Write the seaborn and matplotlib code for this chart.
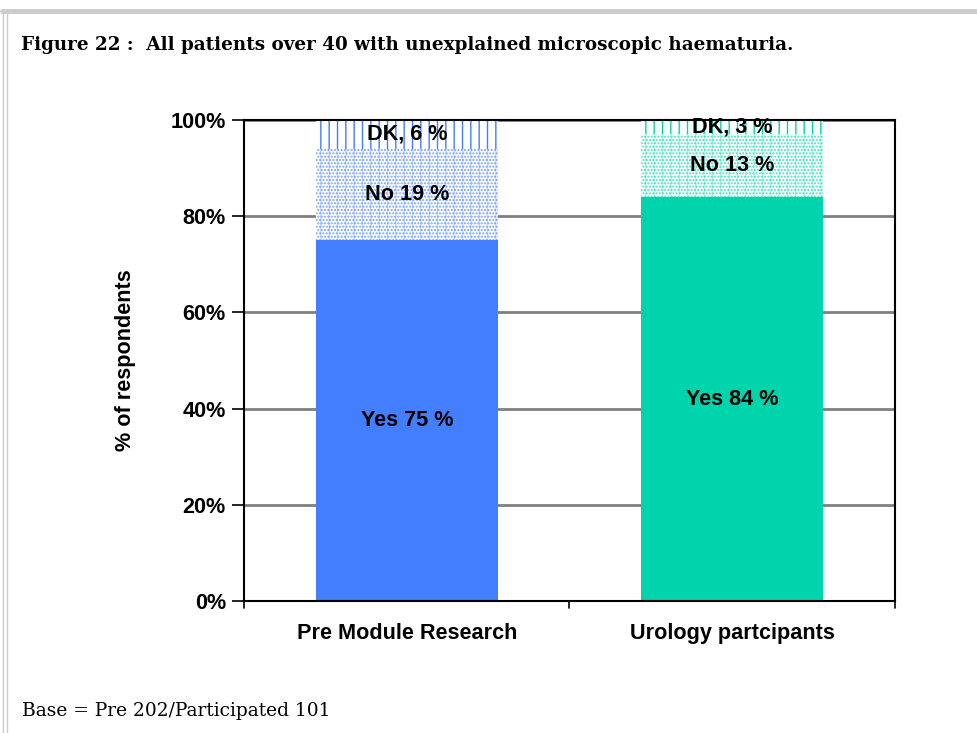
import numpy as np
import pandas as pd
import matplotlib
matplotlib.use('Agg')
import matplotlib.pyplot as plt
import seaborn as sns
from matplotlib.lines import Line2D

# --- Data ---
groups = ['Pre Module Research', 'Urology partcipants']
yes_pct = [75, 84]
no_pct = [19, 13]
dk_pct = [6, 3]
bar_colors = ['#437efe', '#00d4ac']

df = pd.DataFrame({'group': groups, 'yes': yes_pct, 'no': no_pct, 'dk': dk_pct})
df['yes_no'] = df['yes'] + df['no']
df['total'] = df['yes_no'] + df['dk']

sns.set_style('white')
plt.rcParams['font.family'] = ['Liberation Sans', 'DejaVu Sans']
plt.rcParams['hatch.linewidth'] = 1.0
for k in ['text.color', 'axes.labelcolor', 'xtick.color', 'ytick.color']:
    plt.rcParams[k] = 'black'

fs = 15.6

fig = plt.figure(figsize=(9.78, 7.33), dpi=100)
ax = fig.add_axes([0.2495, 0.180, 0.6656, 0.6563])

# stacked bars: draw cumulative tops first, then overlay lower segments
sns.barplot(data=df, x='group', y='total', ax=ax, width=0.56, color='white')
dk_bars = list(ax.patches)
sns.barplot(data=df, x='group', y='yes_no', ax=ax, width=0.56, color='white')
no_bars = list(ax.patches)[len(dk_bars):]
sns.barplot(data=df, x='group', y='yes', ax=ax, width=0.56, color='white')
yes_bars = list(ax.patches)[len(dk_bars) + len(no_bars):]

for i, c in enumerate(bar_colors):
    dk_bars[i].set(facecolor='white', edgecolor=c, hatch='||', linewidth=0)
    no_bars[i].set(facecolor='white', edgecolor=c, hatch='.....', linewidth=0, alpha=0.7)
    yes_bars[i].set(facecolor=c, edgecolor=c, linewidth=0)

# segment labels
for i in range(len(groups)):
    y0 = yes_pct[i]
    ax.text(i, y0 / 2, f'Yes {yes_pct[i]} %', ha='center', va='center',
            fontsize=fs, fontweight='bold')
    ax.text(i, y0 + no_pct[i] / 2, f'No {no_pct[i]} %', ha='center', va='center',
            fontsize=fs, fontweight='bold')
    ax.text(i, y0 + no_pct[i] + dk_pct[i] / 2, f'DK, {dk_pct[i]} %', ha='center', va='center',
            fontsize=fs, fontweight='bold')

ax.set_ylim(0, 100)
ax.set_xlim(-0.5, 1.5)
ax.set_yticks(np.arange(0, 101, 20))
ax.set_yticklabels([f'{v}%' for v in range(0, 101, 20)], fontsize=fs, fontweight='bold')
ax.yaxis.grid(True, color='#808080', linewidth=2)
ax.set_axisbelow(True)
ax.tick_params(axis='y', length=9, width=1.2, color='black', direction='out', left=True, pad=4)
ax.tick_params(axis='x', length=0, pad=16, labelsize=fs)
for lbl in ax.get_xticklabels():
    lbl.set_fontweight('bold')
# small ticks at category boundaries
for xb in [-0.5, 0.5, 1.5]:
    ax.add_line(Line2D([xb, xb], [0, -1.4], color='black', linewidth=1.2, clip_on=False))
ax.set_xlabel('')
ax.set_ylabel('% of respondents', fontsize=fs, fontweight='bold', labelpad=25)
for s in ax.spines.values():
    s.set_visible(True)
    s.set_color('black')
    s.set_linewidth(1.5)

# page frame
fig.add_artist(Line2D([0.002, 1.0], [0.985, 0.985], color='#cccccc', linewidth=3.5))
fig.add_artist(Line2D([0.003, 0.003], [0.0, 0.987], color='#cccccc', linewidth=1))
fig.add_artist(Line2D([0.0075, 0.0075], [0.0, 0.983], color='#cccccc', linewidth=1))

fig.text(0.021, 0.938, 'Figure 22 :  All patients over 40 with unexplained microscopic haematuria.',
         fontsize=13.2, fontweight='bold', family=['DejaVu Serif'], va='center')
fig.text(0.022, 0.030, 'Base = Pre 202/Participated 101', fontsize=13.4,
         family=['DejaVu Serif'], va='center')

fig.savefig('out.png', dpi=100)
